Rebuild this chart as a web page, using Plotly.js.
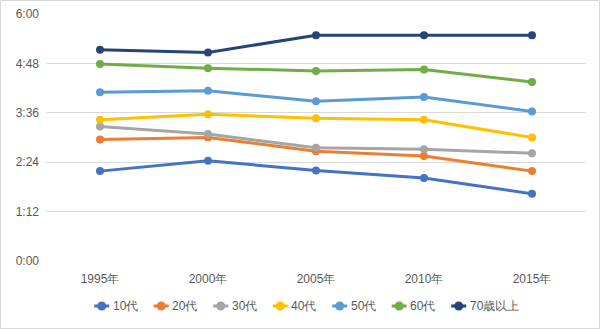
<!DOCTYPE html>
<html>
<head>
<meta charset="utf-8">
<script src="https://cdn.plot.ly/plotly-3.0.1.min.js"></script>
<style>
html,body{margin:0;padding:0;background:#fff;}
#chart{width:600px;height:329px;box-sizing:border-box;border:1px solid #d9d9d9;}
</style>
</head>
<body>
<div id="chart"></div>
<script>
// values in minutes
const years = ["1995年", "2000年", "2005年", "2010年", "2015年"];
const seriesNames = ["10代", "20代", "30代", "40代", "50代", "60代", "70歳以上"];
const teens      = [131, 146, 132, 121, 98];
const twenties   = [177, 180, 160, 153, 131];
const thirties   = [196, 185, 165, 163, 157];
const forties    = [206, 214, 208, 206, 180];
const fifties    = [246, 248, 233, 239, 218];
const sixties    = [287, 281, 277, 279, 261];
const seventies  = [308, 304, 329, 329, 329];
const tickVals   = [0, 72, 144, 216, 288, 360];
const tickText   = ["0:00", "1:12", "2:24", "3:36", "4:48", "6:00"];

const colors = ["#4472C4", "#ED7D31", "#A5A5A5", "#FFC000", "#5B9BD5", "#70AD47", "#264478"];
const allData = [teens, twenties, thirties, forties, fifties, sixties, seventies];

const traces = allData.map((vals, i) => ({
  x: years,
  y: vals,
  name: seriesNames[i],
  type: "scatter",
  mode: "lines+markers",
  line: {color: colors[i], width: 3},
  marker: {color: colors[i], size: 8},
  hoverinfo: "skip",
  showlegend: false
}));

// plot area geometry (div pixels)
const W = 598, H = 327;
const M = {l: 45, r: 13, t: 13, b: 67};
const plotW = W - M.l - M.r, plotH = H - M.t - M.b;

// custom compact legend (Excel-like)
const legStart = 100.7, legStep = 59.5, legY = 305;
const shapes = [], annotations = [];
seriesNames.forEach((name, i) => {
  const px = legStart + legStep * i;
  const xp = (px - M.l) / plotW;
  const yp = -(legY - (H - M.b)) / plotH;
  shapes.push({
    type: "line", xref: "paper", yref: "paper",
    xsizemode: "pixel", ysizemode: "pixel",
    xanchor: xp, yanchor: yp,
    x0: -7.5, x1: 7.5, y0: 0, y1: 0,
    line: {color: colors[i], width: 3}
  });
  shapes.push({
    type: "circle", xref: "paper", yref: "paper",
    xsizemode: "pixel", ysizemode: "pixel",
    xanchor: xp, yanchor: yp,
    x0: -4.5, x1: 4.5, y0: -4.5, y1: 4.5,
    fillcolor: colors[i], line: {color: colors[i], width: 0}
  });
  annotations.push({
    xref: "paper", yref: "paper", x: xp, y: yp,
    xanchor: "left", yanchor: "middle", xshift: 9,
    text: name, showarrow: false,
    font: {size: 12, color: "#595959"}
  });
});

const layout = {
  width: W,
  height: H,
  margin: M,
  paper_bgcolor: "#fff",
  plot_bgcolor: "#fff",
  font: {family: "Liberation Sans, Arial, sans-serif", size: 12, color: "#595959"},
  showlegend: false,
  shapes: shapes,
  annotations: annotations,
  xaxis: {
    type: "category",
    range: [-0.5, 4.5],
    showgrid: false,
    zeroline: false,
    showline: false,
    ticks: "",
    ticklabelstandoff: 9,
    tickfont: {size: 12, color: "#595959"}
  },
  yaxis: {
    range: [0, 360],
    tickvals: tickVals,
    ticktext: tickText,
    showgrid: true,
    gridcolor: "#d9d9d9",
    gridwidth: 1,
    zeroline: false,
    showline: false,
    ticks: "",
    ticklabelstandoff: 6,
    tickfont: {size: 12, color: "#595959"}
  }
};

Plotly.newPlot("chart", traces, layout, {displayModeBar: false, staticPlot: true});
</script>
</body>
</html>
